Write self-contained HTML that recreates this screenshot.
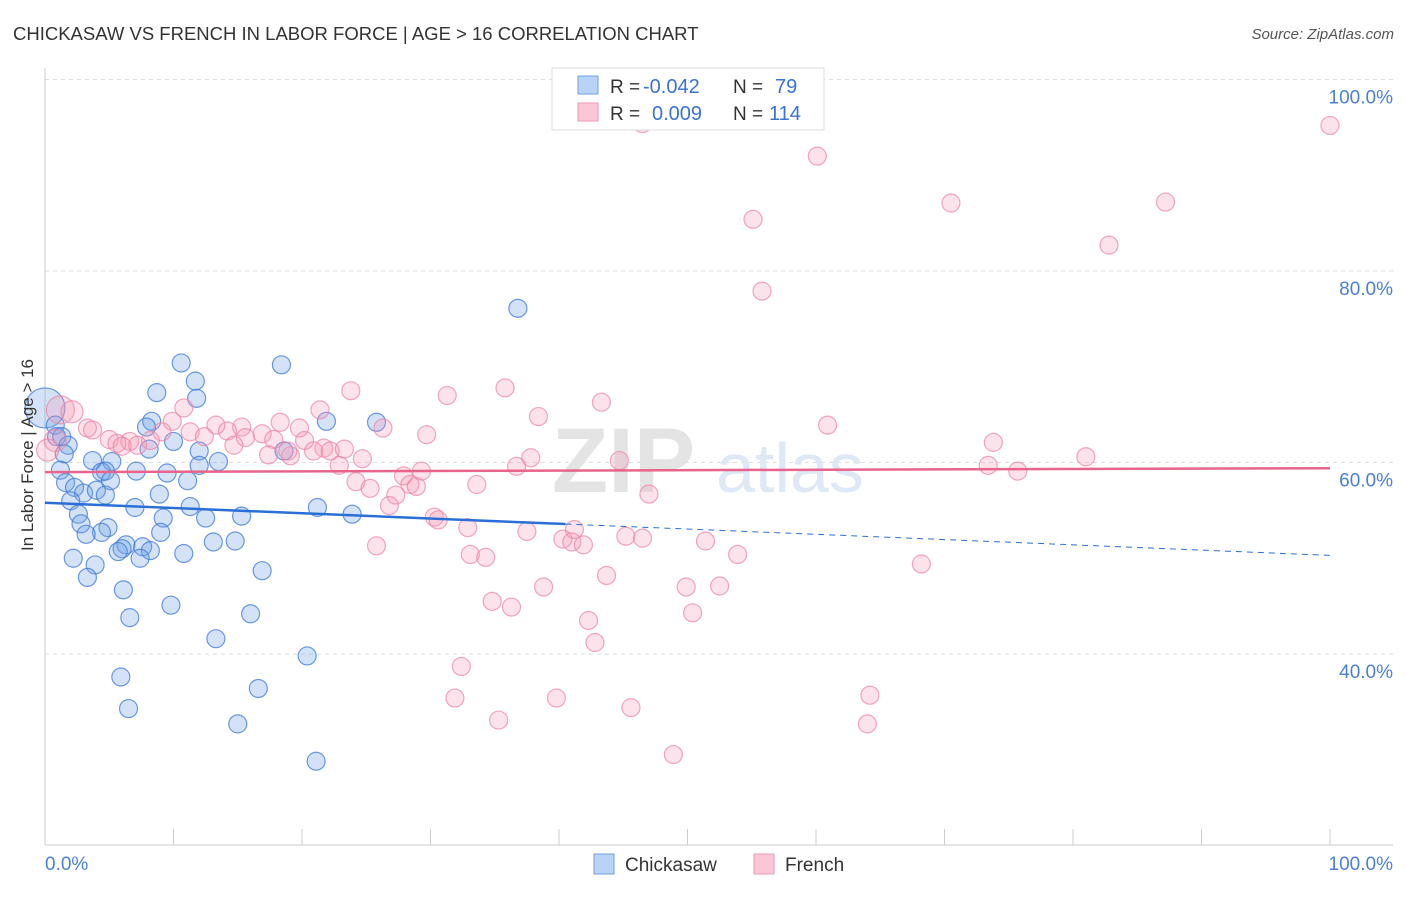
<!DOCTYPE html>
<html><head><meta charset="utf-8"><style>
body{margin:0;background:#fff;font-family:"Liberation Sans",sans-serif;}
svg text{font-family:"Liberation Sans",sans-serif;}
</style></head><body>
<svg id="chart" width="1406" height="892" viewBox="0 0 1406 892" xmlns="http://www.w3.org/2000/svg">
<text x="13" y="40" font-size="18.5" fill="#333">CHICKASAW VS FRENCH IN LABOR FORCE | AGE &gt; 16 CORRELATION CHART</text>
<text x="1394" y="39" font-size="15" fill="#555" text-anchor="end" font-style="italic">Source: ZipAtlas.com</text>
<g id="grid"></g>
<text x="552" y="492" font-size="92" fill="#e4e4e4" font-weight="bold" font-family="Liberation Serif">ZIP</text>
<text x="716" y="492" font-size="70" fill="#dfe8f5">atlas</text>
<g id="points"></g>
<g id="trends"></g>
<text transform="translate(33,455) rotate(-90)" font-size="17" fill="#333" text-anchor="middle">In Labor Force | Age &gt; 16</text>
<g>
<rect x="552" y="68" width="272" height="62" fill="#fff" stroke="#ddd"/>
<rect x="578" y="76" width="20" height="18" fill="#b8d3f5" stroke="#6f9fe0"/>
<rect x="578" y="103" width="20" height="18" fill="#f9c7d6" stroke="#ef9ab4"/>
<text x="610" y="93" font-size="19" fill="#333">R =</text>
<text x="643" y="93" font-size="20" fill="#3a73d0">-0.042</text>
<text x="733" y="93" font-size="19" fill="#333">N =</text>
<text x="775" y="93" font-size="20" fill="#3a73d0">79</text>
<text x="610" y="120" font-size="19" fill="#333">R =</text>
<text x="652" y="120" font-size="20" fill="#3a73d0">0.009</text>
<text x="733" y="120" font-size="19" fill="#333">N =</text>
<text x="769" y="120" font-size="20" fill="#3a73d0">114</text>
</g>
<g>
<rect x="594" y="854" width="20" height="20" fill="#b8d3f5" stroke="#6f9fe0"/>
<text x="625" y="871" font-size="19" fill="#333">Chickasaw</text>
<rect x="754" y="854" width="20" height="20" fill="#f9c7d6" stroke="#ef9ab4"/>
<text x="785" y="871" font-size="19" fill="#333">French</text>
</g>
</svg>
<script>
const yTicks=[100,80,60,40];
const yTickLabels=["100.0%","80.0%","60.0%","40.0%"];
const xTickLabels=["0.0%","100.0%"];
const chickX=[0,36.8,10.6,18.4,11.7,8.7,11.8,8.3,21.9,25.8,7.9,0.8,0.9,1.3,1.8,10.0,8.1,12.0,18.6,1.5,3.7,5.2,13.5,12.0,1.2,4.4,4.7,7.1,9.5,5.1,1.6,11.1,2.3,3.0,4.0,4.7,8.9,2.0,7.0,11.3,21.2,2.6,2.8,9.2,12.5,15.3,23.9,4.9,4.4,3.2,9.0,13.1,14.8,6.3,6.0,7.6,5.7,8.2,10.8,7.4,2.2,3.9,16.9,3.3,6.1,9.8,16.0,6.6,13.3,20.4,5.9,16.6,6.5,15.0,21.1];
const chickY=[65.7,76.1,70.4,70.2,68.5,67.3,66.7,64.3,64.3,64.2,63.7,63.9,62.7,62.7,61.8,62.2,61.4,61.2,61.2,60.9,60.2,60.1,60.1,59.7,59.2,59.0,59.1,59.1,58.9,58.1,57.9,58.1,57.4,56.8,57.1,56.6,56.7,56.0,55.3,55.4,55.3,54.6,53.6,54.2,54.2,54.4,54.6,53.2,52.7,52.5,52.7,51.7,51.8,51.4,51.0,51.2,50.7,50.8,50.5,50.0,50.0,49.3,48.7,48.0,46.7,45.1,44.2,43.8,41.6,39.8,37.6,36.4,34.3,32.7,28.8];
const frenchX=[1.2,2.1,0.8,0.2,46.5,100,60.1,55.1,70.5,87.2,82.8,55.8,23.8,35.8,31.3,43.3,10.8,21.4,38.4,60.9,9.9,18.3,26.3,15.3,13.3,14.2,29.7,73.8,3.3,3.7,9.1,11.3,12.4,16.9,19.8,5.0,6.6,8.2,15.6,17.8,20.2,5.6,7.2,6.0,14.7,21.7,20.9,22.2,23.3,17.4,19.1,18.9,22.9,24.7,37.8,44.7,81.0,73.4,75.7,36.7,29.3,27.9,28.4,28.9,24.2,25.3,33.6,27.3,47.0,26.8,30.3,30.6,32.9,37.5,41.2,40.3,41.0,41.9,45.2,46.5,51.4,25.8,33.1,34.3,53.9,68.2,43.7,38.8,49.9,52.5,34.8,36.3,50.4,42.3,42.8,32.4,31.9,39.8,64.2,45.6,35.3,64.0,48.9];
const frenchY=[65.5,65.3,62.3,61.3,95.4,95.2,92.0,85.4,87.1,87.2,82.7,77.9,67.5,67.8,67.0,66.3,65.7,65.5,64.8,63.9,64.3,64.2,63.6,63.7,63.9,63.3,62.9,62.1,63.6,63.4,63.2,63.2,62.7,63.0,63.6,62.4,62.2,62.3,62.6,62.4,62.3,62.0,61.8,61.7,61.8,61.5,61.2,61.2,61.4,60.8,60.7,61.2,59.7,60.4,60.5,60.2,60.6,59.7,59.1,59.6,59.1,58.6,57.7,57.5,58.0,57.3,57.7,56.6,56.7,55.5,54.3,54.0,53.2,52.8,53.0,52.0,51.7,51.4,52.3,52.1,51.8,51.3,50.4,50.1,50.4,49.4,48.2,47.0,47.0,47.1,45.5,44.9,44.3,43.5,41.2,38.7,35.4,35.4,35.7,34.4,33.1,32.7,29.5];
const chickTrend=[55.8,50.3];
const frenchTrend=[59.0,59.4];
const X0=45,X1=1330,YTOP=79.5,PER=9.575;
const sx=v=>X0+(X1-X0)*v/100;
const sy=v=>YTOP+(100-v)*PER;
const NS="http://www.w3.org/2000/svg";
function mk(tag,attrs,parent){const e=document.createElementNS(NS,tag);for(const k in attrs)e.setAttribute(k,attrs[k]);parent.appendChild(e);return e;}
const grid=document.getElementById('grid');
mk('line',{x1:45,y1:68,x2:45,y2:845,stroke:'#ccc'},grid);
mk('line',{x1:45,y1:845,x2:1393,y2:845,stroke:'#ccc'},grid);
yTicks.forEach((t,i)=>{
 const g=mk('line',{x1:45,y1:sy(t),x2:1393,y2:sy(t),stroke:'#ddd','stroke-dasharray':'4,4'},grid);
 
 
 const tx=mk('text',{x:1393,y:sy(t)+24,'font-size':19,fill:'#4a80d8','text-anchor':'end'},grid);
 tx.textContent=yTickLabels[i];
 
 
});
for(let i=0;i<=10;i++){const x=sx(i*10);mk('line',{x1:x,y1:829,x2:x,y2:845,stroke:'#ccc'},grid);}
[[0,45,'start'],[100,1393,'end']].forEach((d,i)=>{
 const tx=mk('text',{x:d[1],y:870,'font-size':19,fill:'#4a80d8','text-anchor':d[2]},grid);
 tx.textContent=xTickLabels[i];
 
 
});
const pts=document.getElementById('points');
chickX.forEach((x,i)=>{
 const c=mk('circle',{cx:sx(x),cy:sy(chickY[i]),r:i===0?20:9,fill:'rgba(110,160,230,0.3)',stroke:'rgba(60,120,215,0.75)','stroke-width':1.2},pts);
 
 
});
frenchX.forEach((x,i)=>{
 const c=mk('circle',{cx:sx(x),cy:sy(frenchY[i]),r:i<4?(i===0?14:11):9,fill:'rgba(245,150,180,0.28)',stroke:'rgba(235,130,165,0.7)','stroke-width':1.2},pts);
 
 
});
const tr=document.getElementById('trends');
const cAt=x=>chickTrend[0]+(chickTrend[1]-chickTrend[0])*x/100;
let l=mk('line',{x1:sx(0),y1:sy(cAt(0)),x2:sx(40.5),y2:sy(cAt(40.5)),stroke:'#2a6fd6','stroke-width':2.5},tr);


l=mk('line',{x1:sx(40.5),y1:sy(cAt(40.5)),x2:sx(100),y2:sy(cAt(100)),stroke:'#2a6fd6','stroke-width':1,'stroke-dasharray':'6,5'},tr);


l=mk('line',{x1:sx(0),y1:sy(frenchTrend[0]),x2:sx(100),y2:sy(frenchTrend[1]),stroke:'#e8648c','stroke-width':2.5},tr);


</script>
</body></html>
